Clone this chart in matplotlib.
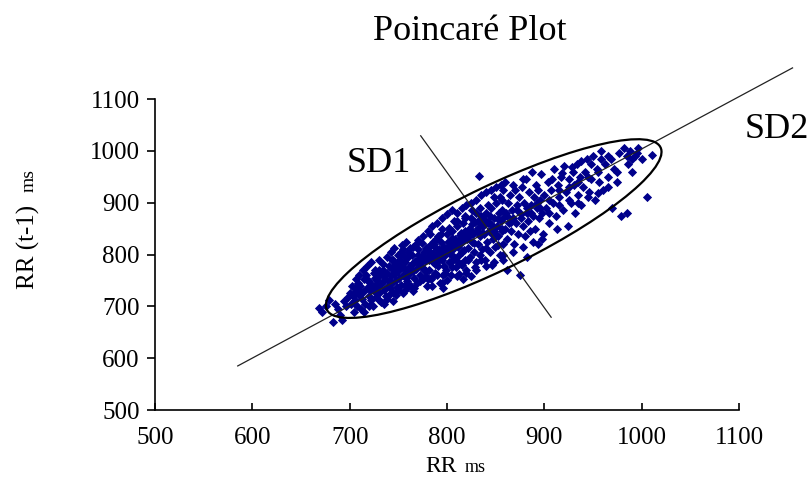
import matplotlib
matplotlib.use("Agg")
import matplotlib.pyplot as plt
from matplotlib.patches import Ellipse

# ---- data ----
pts = [
    (668,697),(672,690),(676,700),(683,669),(685,705),(688,695),(692,673),(694,710),(696,700),(698,718),(690,684),(679,712),
    (701,705),(703,720),(705,712),(706,730),(708,700),(710,722),(711,740),(713,715),(714,728),(716,705),(718,735),(719,748),
    (720,720),(722,712),(723,742),(725,730),(726,755),(727,718),(729,738),(730,725),(731,760),(732,708),(733,745),(735,732),
    (736,752),(737,720),(738,765),(739,740),(712,695),(717,760),(724,700),(728,750),(734,770),(721,732),(709,745),(704,690),
    (715,690),(740,748),(738,715),(726,742),
    (741,735),(742,758),(743,772),(744,745),(745,728),(746,762),(747,780),(748,750),(749,738),(750,768),(751,755),(752,790),
    (753,742),(754,775),(755,760),(756,730),(757,785),(758,770),(759,748),(760,795),(761,762),(762,778),(763,740),(764,800),
    (765,768),(766,755),(767,788),(768,772),(769,745),(770,810),(771,782),(772,760),(773,795),(774,775),(775,752),(776,805),
    (777,788),(778,768),(779,740),(780,815),(744,790),(748,722),(752,775),(756,798),(760,738),(764,782),(768,820),(772,748),
    (776,770),(779,795),(747,765),(753,805),(758,755),(762,812),(766,735),(770,790),(774,822),(778,758),(745,775),(757,742),
    (781,790),(782,770),(783,805),(784,752),(785,820),(786,785),(787,800),(788,765),(789,830),(790,795),(791,778),(792,810),
    (793,745),(794,825),(795,790),(796,735),(797,815),(798,800),(799,770),(800,840),(801,805),(802,785),(803,822),(804,760),
    (805,845),(806,810),(807,795),(808,830),(809,775),(810,855),(811,815),(812,800),(813,838),(814,782),(815,825),(816,860),
    (817,808),(818,790),(819,845),(820,770),(783,840),(786,758),(789,812),(792,790),(795,850),(798,765),(801,825),(804,800),
    (807,865),(810,788),(813,822),(816,752),(819,835),(782,815),(785,798),(788,782),(791,835),(794,805),(797,778),(800,812),
    (803,848),(806,790),(809,820),(812,762),(815,805),(818,870),(787,820),(796,760),(805,832),(814,842),
    (821,830),(822,812),(823,850),(824,795),(825,870),(826,825),(827,840),(828,805),(829,862),(830,785),(831,845),(832,820),
    (833,951),(834,835),(835,875),(836,810),(837,855),(838,840),(839,790),(840,880),(841,825),(842,860),(843,845),(844,805),
    (845,890),(846,850),(847,830),(848,870),(849,815),(850,900),(851,855),(852,835),(853,880),(854,800),(855,865),(856,845),
    (857,905),(858,820),(859,872),(860,850),(822,790),(826,858),(830,880),(834,800),(838,868),(842,895),(846,780),(850,838),
    (854,910),(858,790),(824,838),(828,822),(832,865),(836,842),(840,812),(844,875),(848,845),(852,818),(856,885),(829,775),
    (861,880),(862,830),(863,900),(864,860),(865,915),(866,845),(867,885),(868,870),(869,820),(870,925),(871,860),(872,895),
    (873,840),(874,910),(875,760),(876,878),(877,930),(878,855),(879,900),(880,835),(881,945),(882,880),(883,865),(884,920),
    (885,845),(886,895),(887,960),(888,875),(889,910),(890,850),(891,935),(892,890),(893,820),(894,925),(895,870),(896,905),
    (897,955),(898,880),(899,840),(900,915),
    (902,890),(904,940),(905,860),(907,925),(909,900),(910,965),(912,875),(914,935),(915,910),(917,950),(919,885),(920,970),
    (922,920),(924,855),(925,945),(927,900),(929,960),(930,935),(932,880),(934,975),(935,915),(937,950),(938,895),(940,930),
    (913,850),
    (942,960),(944,985),(946,920),(948,945),(950,990),(952,905),(954,965),(956,940),(958,1000),(960,925),(962,975),(965,950),
    (968,985),(970,890),(972,965),(975,940),(977,995),(979,875),
    (982,1005),(985,880),(986,975),(988,1000),(990,960),(993,990),(996,1005),(1000,985),(1005,911),(1011,992),
    # additional points filling the band
    (702,740),(706,752),(710,760),(714,770),(718,778),(722,785),(726,770),(730,790),(734,782),(738,795),(742,805),(746,812),
    (750,800),(754,818),(758,825),(705,735),(715,752),(725,765),(735,758),(745,790),(755,810),(700,725),(710,732),(720,748),
    (730,770),(740,778),(750,785),(760,805),(720,700),(730,712),(740,722),(750,732),(760,742),(745,710),(755,725),(765,730),
    (735,705),
    (765,815),(770,828),(775,835),(780,845),(785,855),(790,860),(795,870),(800,878),(805,885),(810,880),(815,890),(820,895),
    (825,900),(830,905),(835,915),(840,920),(770,800),(778,812),(786,825),(794,840),(802,852),(810,865),(818,875),(826,885),
    (834,890),(780,752),(790,760),(800,750),(810,758),(820,765),(830,770),(840,778),(785,740),(795,745),(805,775),(815,780),
    (825,758),(835,790),(772,785),(782,795),(792,805),(802,815),(812,828),(822,840),(832,852),(842,862),(776,792),(786,802),
    (796,812),(806,822),(816,834),(826,846),(836,856),
    (845,925),(850,930),(855,935),(860,940),(848,910),(858,925),(868,935),(878,945),(848,785),(858,800),(868,805),(878,815),
    (888,825),(898,830),(862,770),(882,795),(845,858),(852,868),(862,875),(872,885),(882,890),(892,900),(846,840),(856,850),
    (866,862),(876,870),(886,880),(896,890),
    (905,905),(915,925),(925,930),(935,940),(945,950),(955,960),(908,945),(918,958),(928,968),(938,980),(948,975),(958,985),
    (905,880),(915,895),(925,905),(935,900),(945,910),(955,918),(965,930),(975,960),(985,990),(995,995),(990,985),(965,990),
]
rr = [p[0] for p in pts]
rr_prev = [p[1] for p in pts]

diag_x = [585, 1155]
diag_y = [585, 1160]
sd1_x = [773, 907]
sd1_y = [1029, 679]
ell_center = (848, 850)
ell_width = 470
ell_height = 130

xticks = [500, 600, 700, 800, 900, 1000, 1100]
yticks = [500, 600, 700, 800, 900, 1000, 1100]

# ---- figure ----
W, H = 812, 495
fig = plt.figure(figsize=(W / 100, H / 100), dpi=100)
plt.rcParams['font.family'] = ['Liberation Serif', 'DejaVu Serif']

def fx(px):
    return px / W

def fy(py):
    return 1 - py / H

ax = fig.add_axes([fx(155), fy(410), fx(739) - fx(155), fy(99) - fy(410)])
ax.set_xlim(500, 1100)
ax.set_ylim(500, 1100)
ax.set_xticks(xticks)
ax.set_yticks(yticks)
ax.tick_params(axis='x', direction='in', length=5, width=1.2, labelsize=18, pad=12)
ax.tick_params(axis='y', direction='out', length=6, width=1.2, labelsize=18, pad=5)
for s in ['top', 'right']:
    ax.spines[s].set_visible(False)
for s in ['left', 'bottom']:
    ax.spines[s].set_linewidth(1.2)

ax.scatter(rr, rr_prev, marker='D', s=22, color='#00008B', linewidths=0, zorder=3)

ax.plot(diag_x, diag_y, color='#222222', lw=0.9, clip_on=False, zorder=4)
ax.plot(sd1_x, sd1_y, color='#222222', lw=0.9, clip_on=False, zorder=4)
ax.add_patch(Ellipse(ell_center, ell_width, ell_height, angle=45, fill=False,
                     edgecolor='black', lw=1.6, zorder=5))

fig.text(fx(470), fy(32), 'Poincaré Plot', fontsize=26, ha='center', va='center')
fig.text(fx(379), fy(163), 'SD1', fontsize=26, ha='center', va='center')
fig.text(fx(777), fy(130), 'SD2', fontsize=26, ha='center', va='center')

fig.text(fx(441), fy(466), 'RR', fontsize=17, ha='center', va='center')
fig.text(fx(475), fy(467), 'ms', fontsize=13, ha='center', va='center')
fig.text(fx(28), fy(247), 'RR (t-1)', fontsize=18, ha='center', va='center', rotation=90)
fig.text(fx(29), fy(180), 'ms', fontsize=14, ha='center', va='center', rotation=90)

fig.savefig('out.png', dpi=100)
